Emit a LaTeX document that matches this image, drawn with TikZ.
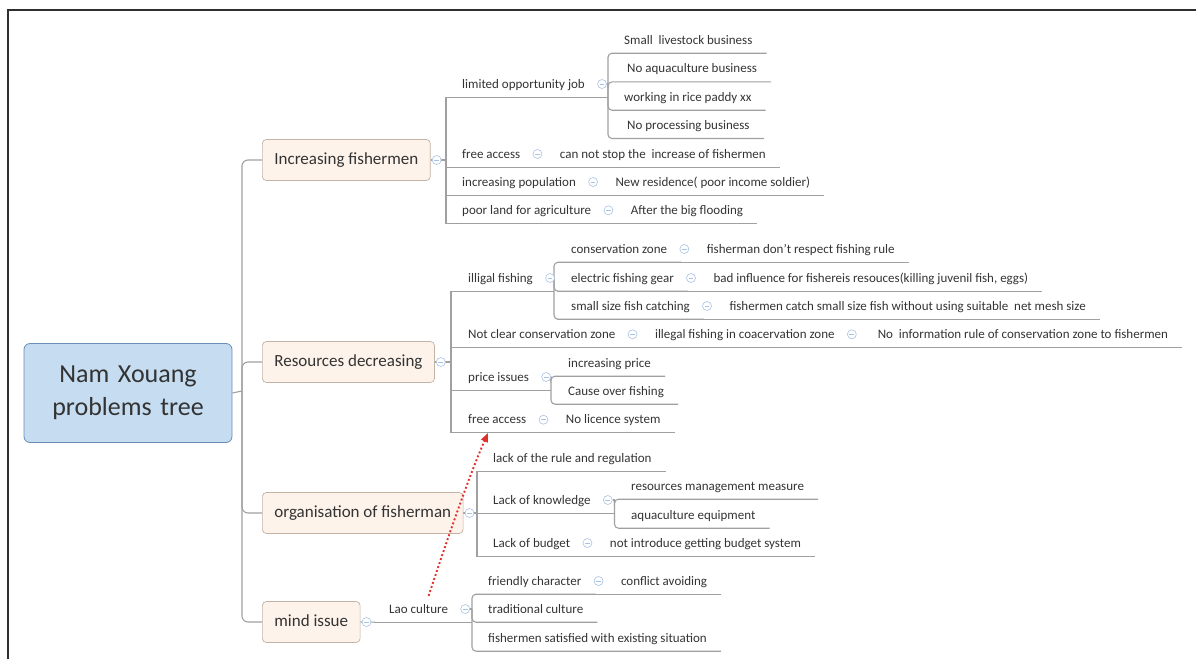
\documentclass[tikz,border=0pt]{standalone}
\usepackage{fontspec}
\setmainfont{Carlito}
\usetikzlibrary{positioning,arrows.meta,backgrounds}

\definecolor{linegray}{HTML}{A0A0A0}
\definecolor{txtgray}{HTML}{333333}
\definecolor{foldblue}{HTML}{A9C2E4}
\definecolor{topicfill}{HTML}{FDF3EA}
\definecolor{topicdraw}{HTML}{C2B3A4}
\definecolor{rootfill}{HTML}{C5DCF1}
\definecolor{rootdraw}{HTML}{6A8DB8}
\definecolor{relred}{HTML}{E0302A}
\definecolor{framegray}{HTML}{2F2F2F}

\tikzset{
  root/.style={draw=rootdraw, fill=rootfill, rounded corners=6pt, line width=0.8pt,
    minimum width=208pt, minimum height=99pt, text width=200pt, align=center,
    text=txtgray, font=\fontsize{26}{33}\selectfont},
  topic/.style={anchor=west, draw=topicdraw, fill=topicfill, rounded corners=4pt,
    line width=0.7pt, minimum height=41pt, inner xsep=12pt, text height=12pt,
    text depth=3pt, text=txtgray, font=\fontsize{17}{20}\selectfont},
  leaf/.style={anchor=west, inner xsep=14pt, inner ysep=0pt, minimum height=26pt,
    text height=12pt, text depth=3.5pt, text=txtgray, font=\fontsize{13}{15}\selectfont},
  fold/.style={circle, draw=foldblue, fill=white, line width=0.6pt, minimum size=9pt,
    inner sep=0pt, path picture={\draw[foldblue, line width=0.6pt]
      ([xshift=-2.4pt]path picture bounding box.center) --
      ([xshift=2.4pt]path picture bounding box.center);}},
  link/.style={draw=linegray, line width=1.1pt},
  relation/.style={relred, line width=1.9pt, dash pattern=on 1.9pt off 2.3pt,
    -{Triangle[length=9pt,width=7pt]}},
}

\begin{document}
\begin{tikzpicture}[x=1pt,y=-1pt]
  \useasboundingbox (0,0) rectangle (1196,659);
  \draw[framegray, line width=2.4pt] (8,659) -- (8,10) -- (1196,10);

  % central topic
  \node[root] (root) at (128,393) {Nam Xouang\\problems tree};
  \coordinate (trunk) at (242,391);

  % Increasing fishermen
  \node[topic] (t1) at (262,160) {Increasing fishermen};
  \node[fold] (f1) at ([xshift=6pt]t1.east) {};
  \coordinate (b1) at (446,160);
  \node[leaf] (a1) at (448,84) {limited opportunity job};
  \node[fold] (fa1) at ([xshift=3pt]a1.east) {};
  \coordinate (k1) at (608,84);
  \node[leaf] (s11) at (610,40) {Small\ \ livestock business};
  \node[leaf] (s12) at (613,68.7) {No aquaculture business};
  \node[leaf] (s13) at (610,97) {working in rice paddy xx};
  \node[leaf] (s14) at (613,125.3) {No processing business};
  \node[leaf] (a2) at (448,154) {free access};
  \node[fold] (fa2) at ([xshift=3pt]a2.east) {};
  \node[leaf, right=3.5pt of fa2] (c2) {can not stop the\ \ increase of fishermen};
  \node[leaf] (a3) at (448,182) {increasing population};
  \node[fold] (fa3) at ([xshift=3pt]a3.east) {};
  \node[leaf, right=3.5pt of fa3] (c3) {New residence( poor income soldier)};
  \node[leaf] (a4) at (448,210.3) {poor land for agriculture};
  \node[fold] (fa4) at ([xshift=3pt]a4.east) {};
  \node[leaf, right=3.5pt of fa4] (c4) {After the big flooding};

  % Resources decreasing
  \node[topic] (t2) at (262,362) {Resources decreasing};
  \node[fold] (f2) at ([xshift=6pt]t2.east) {};
  \coordinate (b2) at (451,362);
  \node[leaf] (d1) at (454,278) {illigal fishing};
  \node[fold] (fd1) at ([xshift=3pt]d1.east) {};
  \coordinate (k2) at (554,278);
  \node[leaf] (e1) at (557,249) {conservation zone};
  \node[fold] (fe1) at ([xshift=3pt]e1.east) {};
  \node[leaf, right=3.5pt of fe1] (r1) {fisherman don't respect fishing rule};
  \node[leaf] (e2) at (557,278) {electric fishing gear};
  \node[fold] (fe2) at ([xshift=3pt]e2.east) {};
  \node[leaf, right=3.5pt of fe2] (r2) {bad influence for fishereis resouces(killing juvenil fish, eggs)};
  \node[leaf] (e3) at (557,306) {small size fish catching};
  \node[fold] (fe3) at ([xshift=3pt]e3.east) {};
  \node[leaf, right=3.5pt of fe3] (r3) {fishermen catch small size fish without using suitable\ \ net mesh size};
  \node[leaf] (d2) at (454,334.3) {Not clear conservation zone};
  \node[fold] (fd2) at ([xshift=3pt]d2.east) {};
  \node[leaf, right=3.5pt of fd2] (r4) {illegal fishing in coacervation zone};
  \node[fold] (fr4) at ([xshift=3pt]r4.east) {};
  \node[leaf, right=7pt of fr4] (r5) {No\ \ information rule of conservation zone to fishermen};
  \node[leaf] (d3) at (454,377) {price issues};
  \node[fold] (fd3) at ([xshift=3pt]d3.east) {};
  \coordinate (k3) at (551,377);
  \node[leaf] (g1) at (554,363) {increasing price};
  \node[leaf] (g2) at (554,391) {Cause over fishing};
  \node[leaf] (d4) at (454,419.7) {free access};
  \node[fold] (fd4) at ([xshift=3pt]d4.east) {};
  \node[leaf, right=3.5pt of fd4] (r6) {No licence system};

  % organisation of fisherman
  \node[topic] (t3) at (262,513) {organisation of fisherman};
  \node[fold] (f3) at ([xshift=6pt]t3.east) {};
  \coordinate (b3) at (477,513);
  \node[leaf] (h1) at (479,458) {lack of the rule and regulation};
  \node[leaf] (h2) at (479,500) {Lack of knowledge};
  \node[fold] (fh2) at ([xshift=3pt]h2.east) {};
  \coordinate (k4) at (614.5,500);
  \node[leaf] (m1) at (617,486) {resources management measure};
  \node[leaf] (m2) at (617,515) {aquaculture equipment};
  \node[leaf] (h3) at (479,543) {Lack of budget};
  \node[fold] (fh3) at ([xshift=3pt]h3.east) {};
  \node[leaf, right=3.5pt of fh3] (m3) {not introduce getting budget system};

  % mind issue
  \node[topic] (t4) at (262,622) {mind issue};
  \node[fold] (f4) at ([xshift=6pt]t4.east) {};
  \node[leaf] (l1) at (375,609) {Lao culture};
  \node[fold] (fl1) at ([xshift=3pt]l1.east) {};
  \coordinate (k5) at (472,609);
  \node[leaf] (n1) at (474,581) {friendly character};
  \node[fold] (fn1) at ([xshift=3pt]n1.east) {};
  \node[leaf, right=3.5pt of fn1] (n4) {conflict avoiding};
  \node[leaf] (n2) at (474,609) {traditional culture};
  \node[leaf] (n3) at (474,638) {fishermen satisfied with existing situation};

  \begin{scope}[on background layer]
    \draw[link] (root.east) -- (trunk);
    \foreach \t in {t1,t2,t3,t4}
      \draw[link, rounded corners=6pt] (trunk) |- (\t.west);
    % main brackets
    \draw[link] (t1.east) -- (b1);
    \foreach \n in {a1,a2,a3,a4}
      \draw[link] (b1) |- (\n.south west);
    \draw[link] (t2.east) -- (b2);
    \foreach \n in {d1,d2,d3,d4}
      \draw[link] (b2) |- (\n.south west);
    \draw[link] (t3.east) -- (b3);
    \foreach \n in {h1,h2,h3}
      \draw[link] (b3) |- (\n.south west);
    \draw[link] (t4.east) -- (l1.south west);
    % sub brackets
    \foreach \p/\k in {a1/k1,d1/k2,d3/k3,h2/k4,l1/k5}
      \draw[link] (\p.south west) -- (\p.south -| \k);
    \foreach \f/\k in {fa1/k1,fd1/k2,fd3/k3,fh2/k4,fl1/k5}
      \draw[link] (\f) -- (\k);
    \foreach \k/\n in {k1/s11,k1/s12,k1/s13,k1/s14,k2/e1,k2/e2,k2/e3,k3/g1,k3/g2,
                       k4/m1,k4/m2,k5/n1,k5/n2,k5/n3}
      \draw[link, rounded corners=4pt] (\k) |- (\n.south east);
    % underlines
    \foreach \p/\c in {a2/c2,a3/c3,a4/c4,e1/r1,e2/r2,e3/r3,d2/r5,d4/r6,h1/h1,h3/m3,n1/n4}
      \draw[link] (\p.south west) -- (\c.south east);
  \end{scope}

  \draw[relation] ([xshift=10pt]l1.north) .. controls (442,555) and (468,478) .. ([xshift=34pt]d4.south west);
\end{tikzpicture}
\end{document}
